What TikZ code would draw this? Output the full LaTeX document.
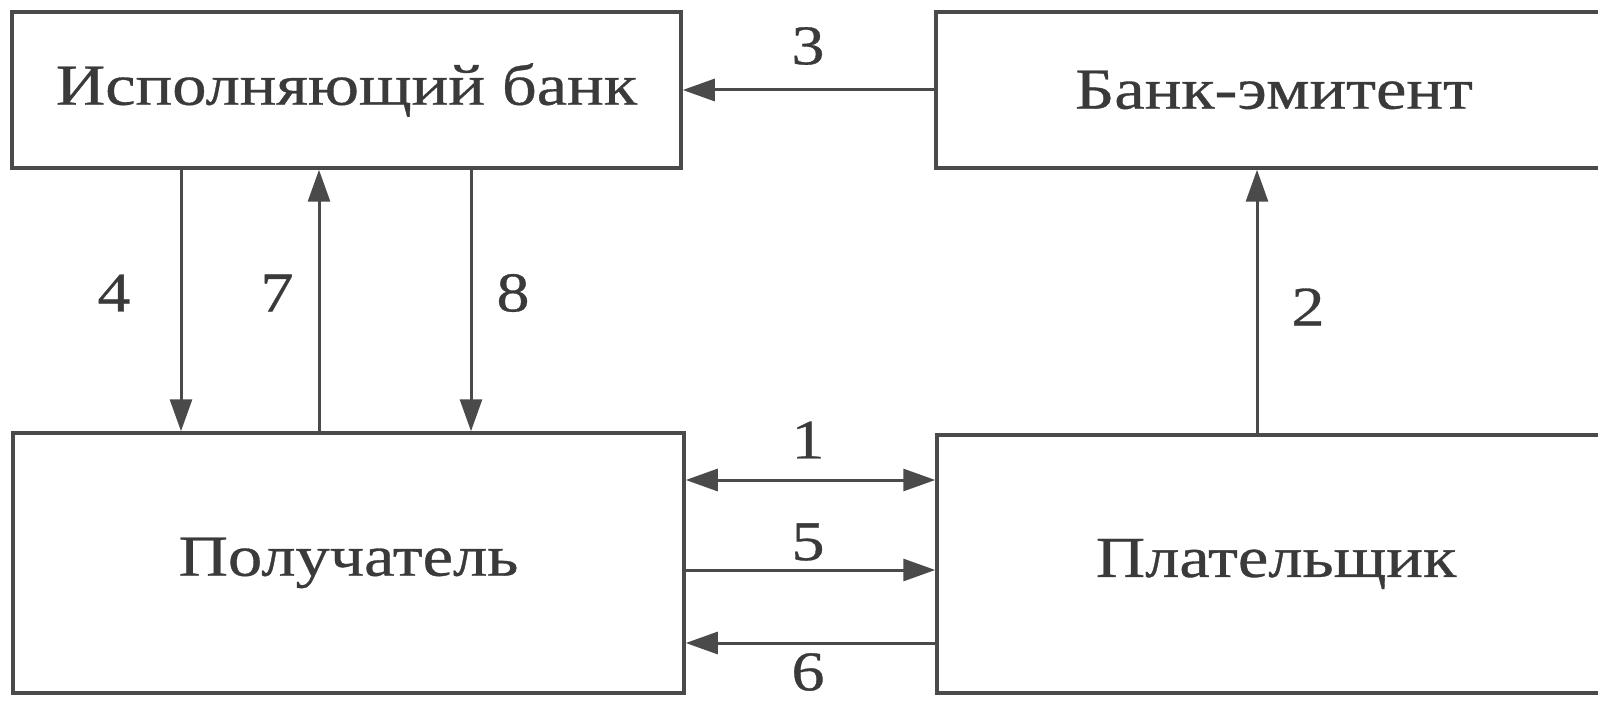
\documentclass[tikz,border=0pt]{standalone}
\usepackage{fontspec}
\setmainfont{Liberation Serif}[FakeStretch=1.18,FakeBold=0.6]
\usetikzlibrary{arrows.meta}
\definecolor{ink}{HTML}{4A4A4A}
\definecolor{txt}{HTML}{3A3A3A}
\tikzset{
  box/.style={draw=ink, line width=3.5pt, rectangle, inner sep=0pt, text=txt, font=\fontsize{58}{64}\selectfont},
  conn/.style={draw=ink, line width=3pt, -{Triangle[length=32pt,width=22pt]}},
  num/.style={text=txt, font=\fontsize{56}{60}\selectfont, inner sep=0pt}
}
\begin{document}
\begin{tikzpicture}[x=1pt,y=-1pt]
\useasboundingbox (0,0) rectangle (1598,703);
\node[box, minimum width=669pt, minimum height=156pt] (ib) at (346.5,90) {Исполняющий банк};
\node[box, minimum width=676pt, minimum height=156pt] (be) at (1274,90) {Банк-эмитент};
\node[box, minimum width=671pt, minimum height=260pt] (pol) at (348.5,563) {Получатель};
\node[box, minimum width=678pt, minimum height=258pt] (pl) at (1276,564) {Плательщик};
% 3
\draw[conn] (be.west |- 0,90) -- (ib.east |- 0,90);
\node[num] (n3) at (808,46) {3};
% 4, 7, 8
\draw[conn] (ib.south -| 181,0) -- (pol.north -| 181,0);
\draw[conn] (pol.north -| 319,0) -- (ib.south -| 319,0);
\draw[conn] (ib.south -| 471,0) -- (pol.north -| 471,0);
\node[num] (n4) at (114,293) {4};
\node[num] (n7) at (277,293) {7};
\node[num] (n8) at (513,293) {8};
% 2
\draw[conn] (pl.north -| 1257,0) -- (be.south -| 1257,0);
\node[num] (n2) at (1308,307) {2};
% 1, 5, 6
\draw[conn, {Triangle[length=32pt,width=22pt]}-{Triangle[length=32pt,width=22pt]}] (pol.east |- 0,480) -- (pl.west |- 0,480);
\node[num] (n1) at (808,440) {1};
\draw[conn] (pol.east |- 0,570) -- (pl.west |- 0,570);
\node[num] (n5) at (808,542) {5};
\draw[conn] (pl.west |- 0,643) -- (pol.east |- 0,643);
\node[num] (n6) at (808,672) {6};
\end{tikzpicture}
\end{document}
